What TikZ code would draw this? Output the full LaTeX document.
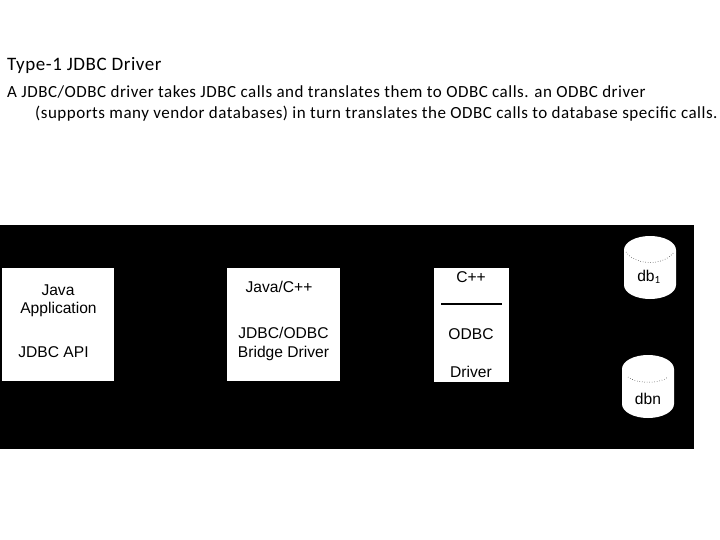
\documentclass[tikz,border=0pt]{standalone}
\usepackage{fontspec}
\setmainfont{Carlito}
\newfontfamily\diagfont{Liberation Sans}
\tikzset{
  px/.style={x=1pt,y=-1pt},
  whitebox/.style={fill=white,draw=none,inner sep=0pt,outer sep=0pt,anchor=north west},
  headtext/.style={anchor=base west,inner sep=0pt,font=\fontsize{19}{22}\addfontfeatures{LetterSpace=3}},
  bodytext/.style={anchor=base west,inner sep=0pt,font=\fontsize{17}{20}\addfontfeatures{LetterSpace=3}},
  boxtext/.style={anchor=base,inner sep=0pt,font=\diagfont\fontsize{15.6}{19}\selectfont},
  rim/.style={black,line width=0.5pt,dotted}
}
\newcommand{\dbdrum}[2]{% centre x, top y
  \fill[white] (#1-26,#2+14) arc[start angle=180,end angle=0,x radius=26pt,y radius=14pt]
    -- (#1+26,#2+49) arc[start angle=0,end angle=-180,x radius=26pt,y radius=14pt] -- cycle;
}
\begin{document}
\begin{tikzpicture}[px]
\useasboundingbox (0,0) rectangle (720,540);
\fill[white] (0,0) rectangle (720,540);
\fill[black] (0,225) rectangle (694,449);
\node[headtext] (title) at (7,71) {Type-1 JDBC Driver};
\node[bodytext] (l1) at (7,98) {A JDBC/ODBC driver takes JDBC calls and translates them to ODBC calls. an ODBC driver};
\node[bodytext] (l2) at (35,119) {(supports many vendor databases) in turn translates the ODBC calls to database specific calls.};
\node[whitebox,minimum width=112pt,minimum height=113pt] (app) at (2,268) {};
\node[whitebox,minimum width=113pt,minimum height=113pt] (bridge) at (227,268) {};
\node[whitebox,minimum width=75pt,minimum height=114pt] (odbc) at (434,268) {};
\node[boxtext] (t1) at (58,295) {Java};
\node[boxtext] (t2) at (58.5,313) {Application};
\node[boxtext] (t3) at (53.5,357) {JDBC API};
\node[boxtext] (t4) at (279,292) {Java/C++};
\node[boxtext] (t5) at (283.5,338) {JDBC/ODBC};
\node[boxtext] (t6) at (283.5,357) {Bridge Driver};
\node[boxtext] (t7) at (471,282) {C++};
\coordinate (sepl) at (441,304);
\coordinate (sepr) at (502,304);
\draw[black,line width=1.2pt] (sepl) -- (sepr);
\node[boxtext] (t8) at (471,339) {ODBC};
\node[boxtext] (t9) at (471,377) {Driver};
\dbdrum{650}{236}
\dbdrum{648}{355}
\draw[rim] (626,252) .. controls (636,266) and (664,266) .. (674,252);
\draw[rim] (628,377) .. controls (636,384) and (660,384) .. (668,377);
\node[boxtext] (t10) at (649,281) {db$_{\mathrm{1}}$};
\node[boxtext] (t11) at (648,404) {dbn};
\end{tikzpicture}
\end{document}
